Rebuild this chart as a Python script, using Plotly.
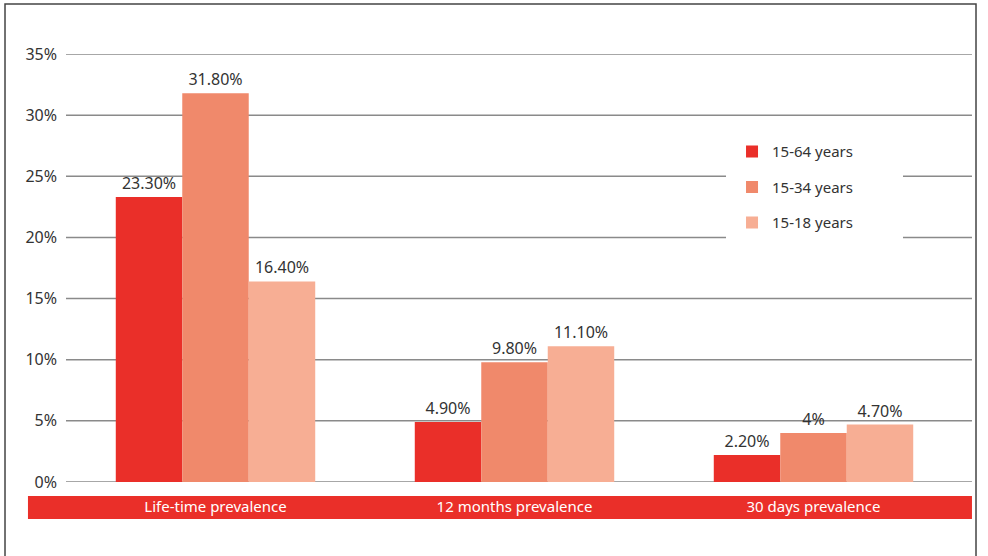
import plotly.graph_objects as go

categories = ['Life-time prevalence', '12 months prevalence', '30 days prevalence']
series_names = ['15-64 years', '15-34 years', '15-18 years']
values_1564 = [23.3, 4.9, 2.2]
values_1534 = [31.8, 9.8, 4.0]
values_1518 = [16.4, 11.1, 4.7]
labels_1564 = ['23.30%', '4.90%', '2.20%']
labels_1534 = ['31.80%', '9.80%', '4%']
labels_1518 = ['16.40%', '11.10%', '4.70%']
y_ticks = [0, 5, 10, 15, 20, 25, 30, 35]

colors = ['#EA2F29', '#F0896B', '#F7AE94']
TEXT = '#333333'
FONT = 'Noto Sans'


def plot_graph():
    fig = go.Figure()

    series = [(values_1564, labels_1564), (values_1534, labels_1534), (values_1518, labels_1518)]
    for i, (vals, labs) in enumerate(series):
        fig.add_trace(go.Bar(x=categories, y=vals, name=series_names[i],
                             text=labs, textposition='outside',
                             textfont=dict(size=16, color=TEXT, family=FONT),
                             marker=dict(color=colors[i], line=dict(width=0)),
                             legendgroup=str(i), cliponaxis=False))

    # gridlines, run a bit past the plot area like the original
    for t in y_ticks:
        fig.add_shape(type='line', xref='paper', yref='y', x0=0, x1=1.01, y0=t, y1=t,
                      line=dict(color='#8a8a8a', width=1.5), layer='below')

    # white box behind the legend that hides the gridlines
    fig.add_shape(type='rect', xref='paper', yref='paper', x0=0.7358, x1=0.9331,
                  y0=0.565, y1=0.80, fillcolor='white', line=dict(width=0), layer='below')

    # red band behind the category labels
    fig.add_shape(type='rect', xref='paper', yref='paper', x0=-0.0424, x1=1.01,
                  y0=-0.0864, y1=-0.0327, fillcolor=colors[0], line=dict(width=0), layer='below')

    # outer frame
    fig.add_shape(type='rect', xref='paper', yref='paper', x0=-0.068, x1=1.0145,
                  y0=-0.25, y1=1.1168, line=dict(color='#444444', width=1.5), layer='below')

    fig.update_layout(
        width=988, height=556,
        margin=dict(l=66, r=25, t=54, b=74),
        paper_bgcolor='white', plot_bgcolor='rgba(0,0,0,0)',
        barmode='group', bargap=0.333, bargroupgap=0,
        font=dict(family=FONT, color=TEXT, size=15),
        showlegend=True,
        legend=dict(x=0.7425, y=0.81, xanchor='left', yanchor='top',
                    bgcolor='rgba(0,0,0,0)', font=dict(size=15, color=TEXT, family=FONT),
                    tracegroupgap=13, itemclick=False),
    )
    fig.update_xaxes(showgrid=False, showline=False, ticks='',
                     tickfont=dict(color='white', size=15, family=FONT),
                     ticklabelstandoff=14)
    fig.update_yaxes(range=[0, 35], tickvals=y_ticks,
                     ticktext=[f'{t}%' for t in y_ticks], showgrid=False,
                     zeroline=False, showline=False, ticks='',
                     tickfont=dict(size=16, color=TEXT, family=FONT), ticklabelstandoff=8)

    # page has a default body margin; drop it so the figure sits at the window corner
    fig.write_html('out.html', config={'displayModeBar': False},
                   post_script="document.body.style.margin='0';")


if __name__ == '__main__':
    plot_graph()
